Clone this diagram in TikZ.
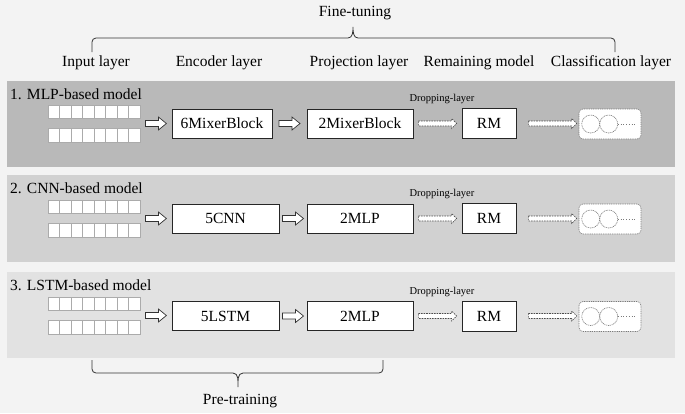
\documentclass[tikz,border=0pt]{standalone}
\usepackage{fontspec}
\setmainfont{Liberation Serif}
\usetikzlibrary{calc}

\definecolor{pagebg}{HTML}{F3F3F3}
\definecolor{panelA}{HTML}{B9B9B9}
\definecolor{panelB}{HTML}{D1D1D1}
\definecolor{panelC}{HTML}{E2E2E2}
\definecolor{cellgray}{HTML}{ABABAB}
\definecolor{dashgray}{HTML}{7A7A7A}

\tikzset{
  layerbox/.style={draw=black!85, fill=white, line width=0.8pt, minimum height=29, inner sep=0pt},
  inputgrid/.style={minimum width=92, minimum height=37, inner sep=0pt},
  cell/.style={draw=cellgray, fill=white, line width=0.6pt},
  title/.style={anchor=west, inner sep=0pt},
  droplabel/.style={font=\fontsize{10.5}{12}\selectfont},
  clsbox/.style={draw=dashgray, fill=white, dash pattern=on 1pt off 0.8pt, rounded corners=4pt,
    minimum width=62, minimum height=30, line width=0.6pt},
  neuron/.style={circle, draw=dashgray, dash pattern=on 1pt off 0.8pt, minimum size=18, inner sep=0pt, line width=0.6pt},
  bracket/.style={draw=black!80, line width=0.8pt},
  hollow/.style={draw=black!80, fill=white, line width=0.7pt, to path={
      let \p1=(\tikztostart), \p2=(\tikztotarget) in
      ({(\x1+\x2)/2-10.5pt},\y1+3pt) -- ({(\x1+\x2)/2+2.5pt},\y1+3pt) -- ({(\x1+\x2)/2+2.5pt},\y1+6.5pt)
      -- ({(\x1+\x2)/2+10.5pt},\y1) -- ({(\x1+\x2)/2+2.5pt},\y1-6.5pt) -- ({(\x1+\x2)/2+2.5pt},\y1-3pt)
      -- ({(\x1+\x2)/2-10.5pt},\y1-3pt) -- cycle}},
  dasharrow/.style 2 args={draw=black!70, fill=white, line width=0.6pt, dash pattern=on 1.6pt off 1pt, to path={
      let \p1=(\tikztostart), \p2=(\tikztotarget) in
      (\x1+#1,\y1+2.5pt) -- (\x2-#2-5pt,\y1+2.5pt) -- (\x2-#2-5pt,\y1+5pt) -- (\x2-#2,\y1)
      -- (\x2-#2-5pt,\y1-5pt) -- (\x2-#2-5pt,\y1-2.5pt) -- (\x1+#1,\y1-2.5pt) -- cycle}}
}

\begin{document}
\begin{tikzpicture}[x=1pt, y=-1pt, font=\fontsize{15.5}{18}\selectfont]
    \useasboundingbox (0,0) rectangle (685,413);
    \fill[pagebg] (0,0) rectangle (685,413);

    % Layer labels
    \node (finetune) at (355,13) {Fine-tuning};
    \node (lin) at (96,63) {Input layer};
    \node (lenc) at (219,63) {Encoder layer};
    \node (lproj) at (359,63) {Projection layer};
    \node (lrm) at (479,63) {Remaining model};
    \node (lcls) at (611,63) {Classification layer};
    \draw[bracket] (92,52) -- (92,42) to[out=90,in=180] (96,38) -- (348,38) to[out=0,in=-90] (353,27)
      to[out=-90,in=180] (358,38) -- (611,38) to[out=0,in=90] (615,42) -- (615,52);

    % 1. MLP-based model
    \fill[panelA] (7,81) rectangle (675,167);
    \node[title] (t1) at (10,94) {1. MLP-based model};
    \node[inputgrid] (in1) at (94,123.5) {};
    \foreach \i in {0,...,7} {
      \draw[cell] ([xshift=11.5*\i]in1.north west) rectangle ++(11.5,13.5);
      \draw[cell] ([xshift=11.5*\i]in1.south west) rectangle ++(11.5,-13.5);
    }
    \node[layerbox, minimum width=100] (enc1) at (222,123.5) {6MixerBlock};
    \node[layerbox, minimum width=106] (proj1) at (360,123.5) {2MixerBlock};
    \node[layerbox, minimum width=54, minimum height=30] (rm1) at (489,123.5) {RM};
    \node[clsbox] (cls1) at (610,124) {};
    \node[neuron] (n1a) at ([xshift=12]cls1.west) {};
    \node[neuron] (n1b) at ([xshift=30]cls1.west) {};
    \draw[dashgray, dotted, line width=0.7pt] (n1b.east) -- ([xshift=-6]cls1.east);
    \node[droplabel] (d1) at (442,99) {Dropping-layer};
    \draw[hollow] (in1.east) to (enc1.west);
    \draw[hollow] (enc1.east) to (proj1.west);
    \draw[dasharrow={5pt}{5pt}] (proj1.east) to (rm1.west);
    \draw[dasharrow={12pt}{2pt}] (rm1.east) to (cls1.west);

    % 2. CNN-based model
    \fill[panelB] (7,175) rectangle (675,262);
    \node[title] (t2) at (10,188) {2. CNN-based model};
    \node[inputgrid] (in2) at (94,218.5) {};
    \foreach \i in {0,...,7} {
      \draw[cell] ([xshift=11.5*\i]in2.north west) rectangle ++(11.5,13.5);
      \draw[cell] ([xshift=11.5*\i]in2.south west) rectangle ++(11.5,-13.5);
    }
    \node[layerbox, minimum width=107] (enc2) at (225.5,218.5) {5CNN};
    \node[layerbox, minimum width=106] (proj2) at (360,218.5) {2MLP};
    \node[layerbox, minimum width=54, minimum height=30] (rm2) at (489,218.5) {RM};
    \node[clsbox] (cls2) at (610,219) {};
    \node[neuron] (n2a) at ([xshift=12]cls2.west) {};
    \node[neuron] (n2b) at ([xshift=30]cls2.west) {};
    \draw[dashgray, dotted, line width=0.7pt] (n2b.east) -- ([xshift=-6]cls2.east);
    \node[droplabel] (d2) at (442,194) {Dropping-layer};
    \draw[hollow] (in2.east) to (enc2.west);
    \draw[hollow] (enc2.east) to (proj2.west);
    \draw[dasharrow={5pt}{5pt}] (proj2.east) to (rm2.west);
    \draw[dasharrow={12pt}{2pt}] (rm2.east) to (cls2.west);

    % 3. LSTM-based model
    \fill[panelC] (7,272) rectangle (675,358);
    \node[title] (t3) at (10,285) {3. LSTM-based model};
    \node[inputgrid] (in3) at (94,315.5) {};
    \foreach \i in {0,...,7} {
      \draw[cell] ([xshift=11.5*\i]in3.north west) rectangle ++(11.5,13.5);
      \draw[cell] ([xshift=11.5*\i]in3.south west) rectangle ++(11.5,-13.5);
    }
    \node[layerbox, minimum width=107] (enc3) at (225.5,316) {5LSTM};
    \node[layerbox, minimum width=106] (proj3) at (360,316) {2MLP};
    \node[layerbox, minimum width=54, minimum height=30] (rm3) at (489,316) {RM};
    \node[clsbox] (cls3) at (610,316.5) {};
    \node[neuron] (n3a) at ([xshift=12]cls3.west) {};
    \node[neuron] (n3b) at ([xshift=30]cls3.west) {};
    \draw[dashgray, dotted, line width=0.7pt] (n3b.east) -- ([xshift=-6]cls3.east);
    \node[droplabel] (d3) at (442,291.5) {Dropping-layer};
    \draw[hollow] (in3.east) to (enc3.west);
    \draw[hollow] (enc3.east) to (proj3.west);
    \draw[dasharrow={5pt}{5pt}] (proj3.east) to (rm3.west);
    \draw[dasharrow={12pt}{2pt}] (rm3.east) to (cls3.west);

    % Pre-training
    \draw[bracket] (92,360) -- (92,369) to[out=-90,in=180] (96,373) -- (233,373) to[out=0,in=90] (238,387)
      to[out=90,in=180] (243,373) -- (379,373) to[out=0,in=-90] (383,369) -- (383,360);
    \node (pretrain) at (240,401) {Pre-training};
  \end{tikzpicture}
\end{document}
